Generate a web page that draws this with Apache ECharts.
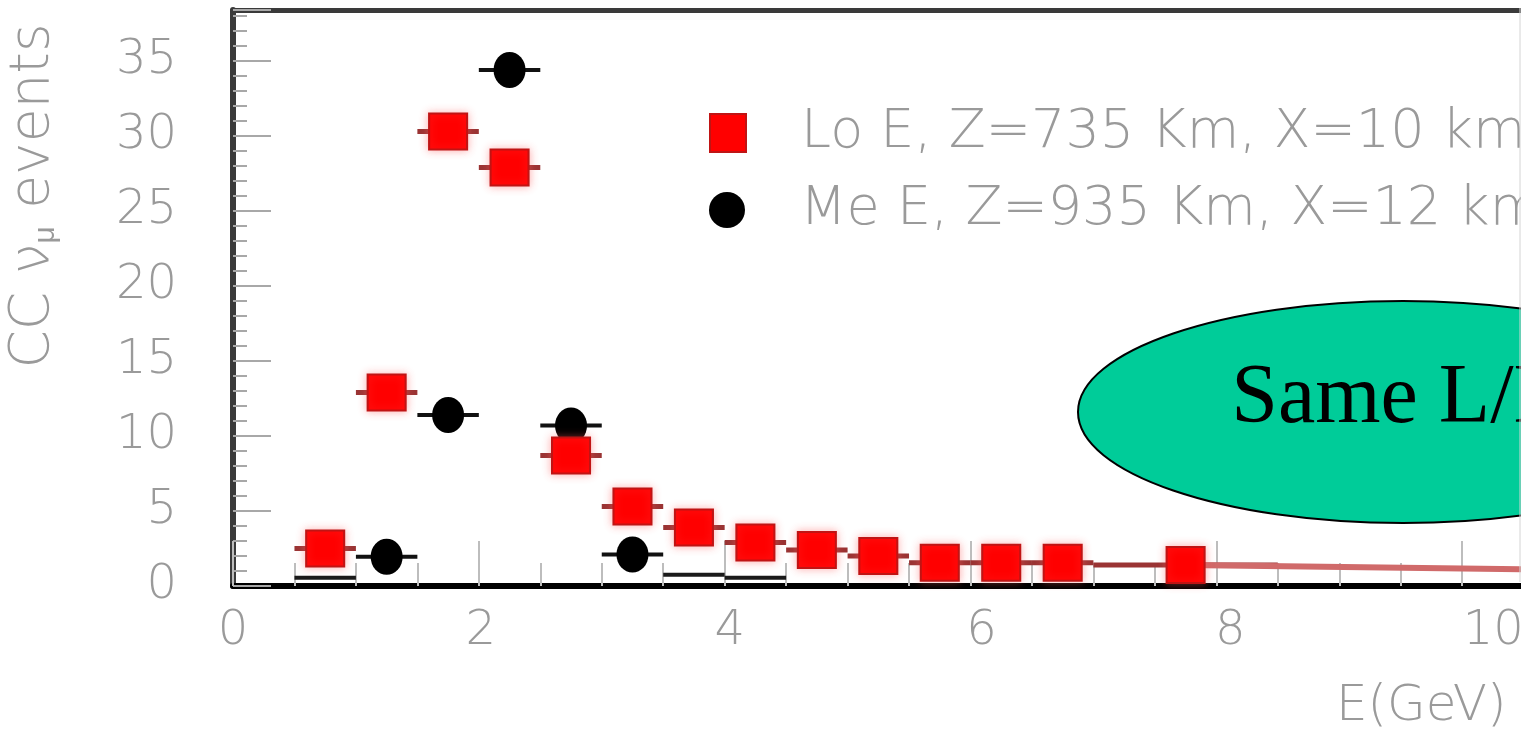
<!DOCTYPE html>
<html>
<head>
<meta charset="utf-8">
<script src="https://cdn.jsdelivr.net/npm/echarts@6/dist/echarts.min.js"></script>
<style>
  html, body { margin: 0; padding: 0; background: #ffffff; }
  #chart { width: 1521px; height: 754px; }
</style>
</head>
<body>
<div id="chart"></div>
<script>
// Series names
const loName = 'Lo E, Z=735 Km, X=10 km';
const meName = 'Me E, Z=935 Km, X=12 km';

// Lo E: bin centres (GeV), CC nu_mu counts, bin half-widths (GeV)
const loCenters    = [0.75, 1.25, 1.75, 2.25, 2.75, 3.25, 3.75, 4.25, 4.75, 5.25, 5.75, 6.25, 6.75, 7.75];
const loCounts     = [2.5, 12.9, 30.3, 27.9, 8.7, 5.3, 3.9, 2.9, 2.4, 2.0, 1.55, 1.55, 1.55, 1.4];
const loHalfWidths = [0.25, 0.25, 0.25, 0.25, 0.25, 0.25, 0.25, 0.25, 0.25, 0.25, 0.25, 0.25, 0.25, 0.75];

// Lo E high-energy tail
const loTailX = [7.75, 12];
const loTailY = [1.4, 0.95];

// Me E: bin centres, counts, half-widths
const meCenters    = [1.25, 1.75, 2.25, 2.75, 3.25];
const meCounts     = [1.95, 11.4, 34.4, 10.7, 2.1];
const meHalfWidths = [0.25, 0.25, 0.25, 0.25, 0.25];

// Me E low-count bins drawn without a marker
const meBinCenters = [0.75, 3.75, 4.25];
const meBinCounts  = [0.55, 0.75, 0.55];
const meBinHalf    = [0.25, 0.25, 0.25];

const FONT = '"DejaVu Sans", "Liberation Sans", sans-serif';
const WEIGHT = 200;
const TEXT_GREY = '#9a9a9a';

// Energy tick labels are nudged right progressively, as in the original plot
const xLabelNudge = { 0: 0, 2: 4, 4: 10, 6: 22, 8: 28, 10: 62, 12: 70 };
const xLabelRich = {};
Object.keys(xLabelNudge).forEach(k => {
  xLabelRich['v' + k] = { padding: [0, 0, 0, xLabelNudge[k]] };
});

function triples(xs, ys, hs) {
  return xs.map((x, i) => [x, ys[i], hs[i]]);
}
function pairs(xs, ys) {
  return xs.map((x, i) => [x, ys[i]]);
}

// Horizontal error bar renderer: value = [centre, count, halfWidth]
function hBar(color, width) {
  return function (params, api) {
    const x = api.value(0), y = api.value(1), h = api.value(2);
    const a = api.coord([x - h, y]);
    const b = api.coord([x + h, y]);
    return {
      type: 'line',
      shape: { x1: a[0], y1: a[1], x2: b[0], y2: b[1] },
      style: { stroke: color, lineWidth: width }
    };
  };
}

function legendBox(name, icon, top) {
  return {
    orient: 'vertical',
    left: 704,
    top: top,
    itemWidth: 36,
    itemHeight: 38,
    selectedMode: false,
    textStyle: {
      fontFamily: FONT, fontWeight: WEIGHT, fontSize: 54, color: TEXT_GREY,
      padding: [0, 0, 0, 50]
    },
    data: [{ name: name, icon: icon }]
  };
}

const chart = echarts.init(document.getElementById('chart'), null, { renderer: 'canvas' });

chart.setOption({
  animation: false,
  backgroundColor: '#ffffff',
  grid: { left: 233, top: 10, right: -187, bottom: 168, containLabel: false, outerBoundsMode: 'none' },
  legend: [
    legendBox(loName, 'rect', 101),
    legendBox(meName, 'circle', 178)
  ],
  xAxis: [
    {
      type: 'value', min: 0, max: 12, interval: 2, position: 'bottom',
      axisLine: { show: true, onZero: false, lineStyle: { color: '#000000', width: 6 } },
      axisTick: { show: true, inside: true, length: 45, lineStyle: { color: '#bdbdbd', width: 2 } },
      minorTick: { show: true, splitNumber: 4, length: 23, lineStyle: { color: '#bdbdbd', width: 2 } },
      splitLine: { show: false },
      axisLabel: {
        fontFamily: FONT, fontWeight: WEIGHT, fontSize: 48, color: TEXT_GREY, margin: 22,
        formatter: v => '{v' + v + '|' + v + '}',
        rich: xLabelRich
      }
    },
    {
      type: 'value', min: 0, max: 12, position: 'top',
      axisLine: { show: true, onZero: false, lineStyle: { color: '#3a3a3a', width: 5 } },
      axisTick: { show: false }, axisLabel: { show: false }, splitLine: { show: false }
    }
  ],
  yAxis: {
    type: 'value', min: 0, max: 38.4, interval: 5,
    axisLine: { show: true, onZero: false, lineStyle: { color: '#3a3a3a', width: 6 } },
    axisTick: { show: true, inside: true, length: 38, lineStyle: { color: '#a8a8a8', width: 2 } },
    minorTick: { show: true, splitNumber: 5, length: 14, lineStyle: { color: '#a8a8a8', width: 2 } },
    splitLine: { show: false },
    axisLabel: { fontFamily: FONT, fontWeight: WEIGHT, fontSize: 48, color: TEXT_GREY, margin: 56, showMaxLabel: false }
  },
  series: [
    {
      type: 'custom', name: meName + ' bars', silent: true, z: 2,
      renderItem: hBar('#111111', 4),
      encode: { x: 0, y: 1 },
      data: triples(meCenters, meCounts, meHalfWidths)
    },
    {
      type: 'custom', name: meName + ' bins', silent: true, z: 2,
      renderItem: hBar('#1a1a1a', 4),
      encode: { x: 0, y: 1 },
      data: triples(meBinCenters, meBinCounts, meBinHalf)
    },
    {
      type: 'scatter', name: meName, z: 3,
      symbol: 'circle', symbolSize: [32, 36],
      itemStyle: { color: '#000000', opacity: 1 },
      data: pairs(meCenters, meCounts)
    },
    {
      type: 'custom', name: loName + ' bars', silent: true, z: 4,
      renderItem: hBar('#9a3434', 5),
      encode: { x: 0, y: 1 },
      data: triples(loCenters, loCounts, loHalfWidths)
    },
    {
      type: 'line', name: loName + ' tail', silent: true, z: 5,
      showSymbol: false, symbol: 'none',
      lineStyle: { color: '#d06a6a', width: 6 },
      data: pairs(loTailX, loTailY)
    },
    {
      type: 'scatter', name: loName, z: 6,
      symbol: 'rect', symbolSize: [38, 36],
      itemStyle: {
        color: '#ff0000', borderColor: '#c01414', borderWidth: 2, opacity: 1,
        shadowBlur: 8, shadowColor: 'rgba(255,90,90,0.45)'
      },
      data: pairs(loCenters, loCounts)
    }
  ],
  graphic: [
    {
      type: 'text', x: 34, y: 196, rotation: Math.PI / 2, z: 10,
      style: {
        text: 'CC ν{sub|μ} events',
        fontFamily: FONT, fontWeight: WEIGHT, fontSize: 55, fill: TEXT_GREY,
        align: 'center', verticalAlign: 'middle',
        rich: { sub: { fontSize: 30, padding: [24, 0, 0, 0] } }
      }
    },
    {
      type: 'text', x: 1336, y: 707, z: 10,
      style: {
        text: 'E(GeV)', fontFamily: FONT, fontWeight: WEIGHT, fontSize: 50,
        fill: TEXT_GREY, align: 'left', verticalAlign: 'middle'
      }
    },
    {
      type: 'ellipse', z: 100,
      shape: { cx: 1403, cy: 412, rx: 325, ry: 111 },
      style: { fill: '#00cc99', stroke: '#000000', lineWidth: 2 }
    },
    {
      type: 'text', x: 1398, y: 400, z: 101,
      style: {
        text: 'Same L/E', fontFamily: '"Liberation Serif", "Times New Roman", serif',
        fontSize: 84, fill: '#000000', align: 'center', verticalAlign: 'middle'
      }
    },
    {
      type: 'line', z: 102, silent: true,
      shape: { x1: 1520, y1: 8, x2: 1520, y2: 582 },
      style: { stroke: '#d4d4d4', lineWidth: 1 }
    }
  ]
});
</script>
</body>
</html>
